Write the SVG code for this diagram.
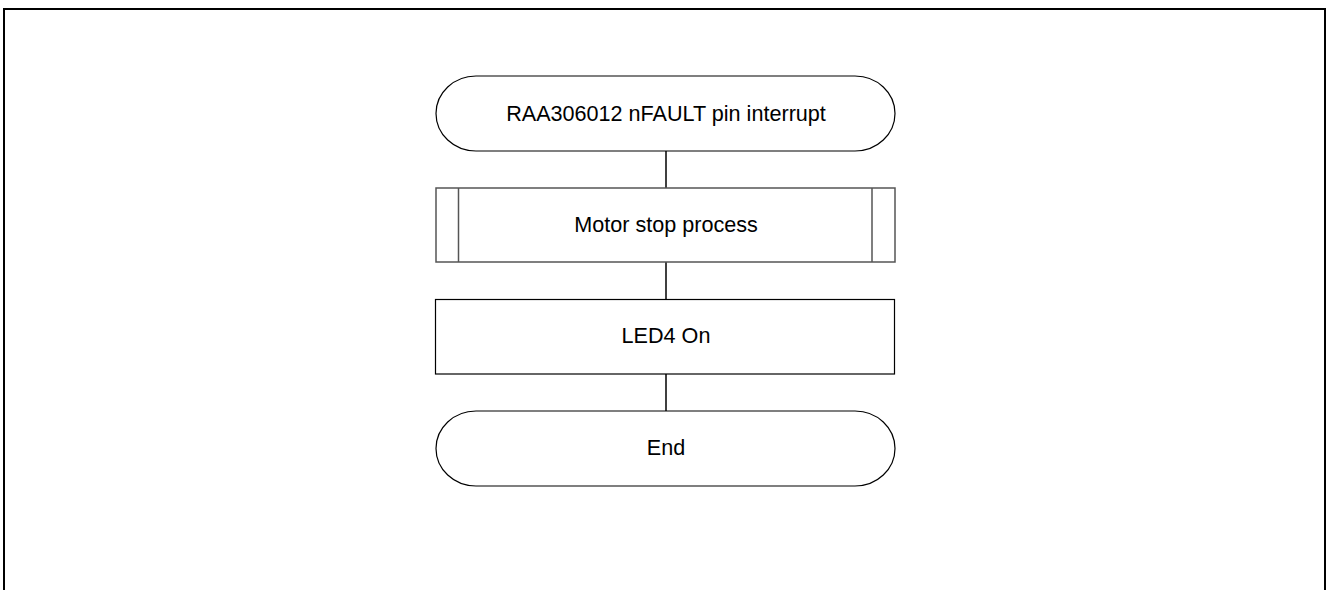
<svg xmlns="http://www.w3.org/2000/svg" width="1327" height="590" viewBox="0 0 1327 590">
<style>
.shape{fill:#fff;stroke:#000;stroke-width:1.2}
.sub{fill:#fff;stroke:#555;stroke-width:1.5}
.lbl{font-family:"Liberation Sans",Arial,sans-serif;font-size:21.6px;fill:#000;text-anchor:middle}
.conn{stroke:#000;stroke-width:1.5;fill:none}
</style>
<rect width="1327" height="590" fill="#fff"/>
<path d="M4,600 V9 H1325 V600" fill="none" stroke="#000" stroke-width="2"/>
<g id="connectors">
<line class="conn" x1="666" y1="151" x2="666" y2="188"/>
<line class="conn" x1="666" y1="262" x2="666" y2="299.5"/>
<line class="conn" x1="666" y1="374" x2="666" y2="411"/>
</g>
<g id="start">
<rect class="shape" x="436" y="76" width="459" height="75" rx="40" ry="37.5"/>
<text class="lbl" x="666" y="120.5">RAA306012 nFAULT pin interrupt</text>
</g>
<g id="motor-stop">
<rect class="sub" x="436" y="188" width="459" height="74"/>
<line class="sub" x1="458.5" y1="188" x2="458.5" y2="262"/>
<line class="sub" x1="872" y1="188" x2="872" y2="262"/>
<text class="lbl" x="666" y="232">Motor stop process</text>
</g>
<g id="led4">
<rect class="shape" x="435.5" y="299.5" width="459" height="74.5"/>
<text class="lbl" x="666" y="343">LED4 On</text>
</g>
<g id="end">
<rect class="shape" x="436" y="411" width="459" height="75" rx="40" ry="37.5"/>
<text class="lbl" x="666" y="455">End</text>
</g>
</svg>
